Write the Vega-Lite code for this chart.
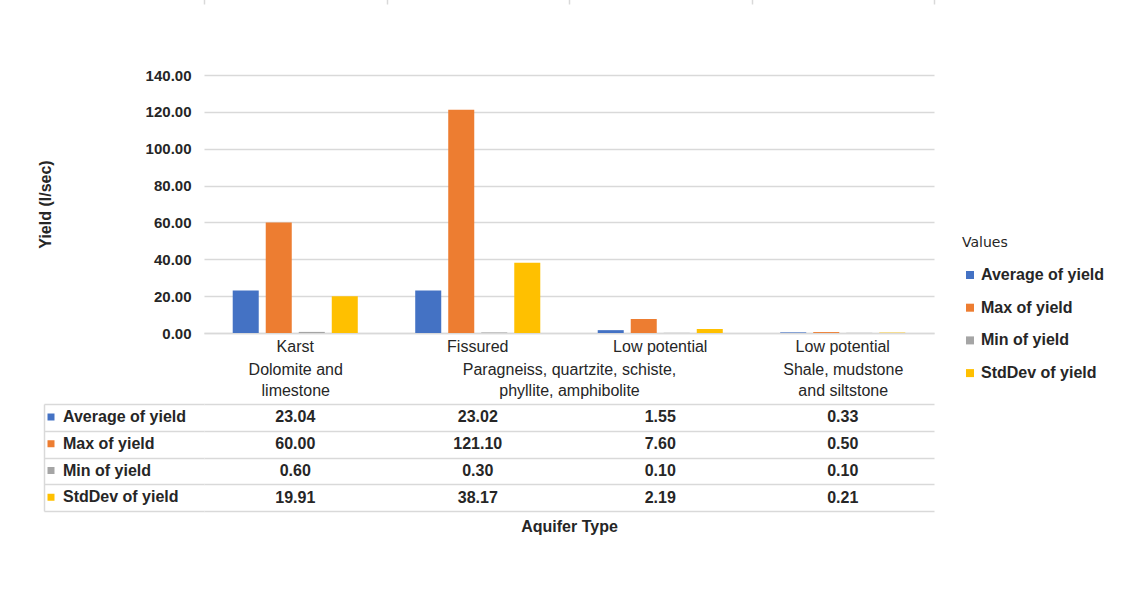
{
  "$schema": "https://vega.github.io/schema/vega-lite/v6.json",
  "padding": {"left": 37, "top": 68, "right": 4, "bottom": 4},
  "background": "#ffffff",
  "width": 730,
  "height": 258,
  "view": {"stroke": null},
  "config": {
    "font": "Liberation Sans",
    "axis": {"labelColor": "#262626", "titleColor": "#262626"},
    "legend": {"labelColor": "#262626"}
  },
  "datasets": {
    "yield": [
      {"aqt": "Karst", "litho": "Dolomite and limestone", "series": "Average of yield", "value": 23.04},
      {"aqt": "Karst", "litho": "Dolomite and limestone", "series": "Max of yield", "value": 60.0},
      {"aqt": "Karst", "litho": "Dolomite and limestone", "series": "Min of yield", "value": 0.6},
      {"aqt": "Karst", "litho": "Dolomite and limestone", "series": "StdDev of yield", "value": 19.91},
      {"aqt": "Fissured", "litho": "Paragneiss, quartzite, schiste, phyllite, amphibolite", "series": "Average of yield", "value": 23.02},
      {"aqt": "Fissured", "litho": "Paragneiss, quartzite, schiste, phyllite, amphibolite", "series": "Max of yield", "value": 121.1},
      {"aqt": "Fissured", "litho": "Paragneiss, quartzite, schiste, phyllite, amphibolite", "series": "Min of yield", "value": 0.3},
      {"aqt": "Fissured", "litho": "Paragneiss, quartzite, schiste, phyllite, amphibolite", "series": "StdDev of yield", "value": 38.17},
      {"aqt": "Low potential", "litho": "Paragneiss, quartzite, schiste, phyllite, amphibolite", "series": "Average of yield", "value": 1.55},
      {"aqt": "Low potential", "litho": "Paragneiss, quartzite, schiste, phyllite, amphibolite", "series": "Max of yield", "value": 7.6},
      {"aqt": "Low potential", "litho": "Paragneiss, quartzite, schiste, phyllite, amphibolite", "series": "Min of yield", "value": 0.1},
      {"aqt": "Low potential", "litho": "Paragneiss, quartzite, schiste, phyllite, amphibolite", "series": "StdDev of yield", "value": 2.19},
      {"aqt": "Low potential", "litho": "Shale, mudstone and siltstone", "series": "Average of yield", "value": 0.33},
      {"aqt": "Low potential", "litho": "Shale, mudstone and siltstone", "series": "Max of yield", "value": 0.5},
      {"aqt": "Low potential", "litho": "Shale, mudstone and siltstone", "series": "Min of yield", "value": 0.1},
      {"aqt": "Low potential", "litho": "Shale, mudstone and siltstone", "series": "StdDev of yield", "value": 0.21}
    ]
  },
  "resolve": {
    "scale": {"x": "independent", "y": "independent", "xOffset": "independent"},
    "axis": {"x": "independent", "y": "independent"},
    "legend": {"color": "independent"}
  },
  "layer": [
    {
      "data": {"name": "yield"},
      "transform": [{"calculate": "datum.aqt + '|' + datum.litho", "as": "col"}],
      "mark": {"type": "bar"},
      "encoding": {
        "x": {
          "field": "col", "type": "nominal", "sort": null,
          "scale": {"paddingInner": 0, "paddingOuter": 0},
          "axis": {
            "orient": "bottom", "title": null, "grid": false, "ticks": false,
            "domain": true, "domainColor": "#d9d9d9", "domainWidth": 1.5,
            "labelExpr": "split(datum.value, '|')[0]",
            "labelAngle": 0, "labelFontSize": 16, "labelFontWeight": "normal",
            "labelBaseline": "middle", "labelPadding": 13, "labelLimit": 0
          }
        },
        "xOffset": {
          "field": "series", "type": "nominal", "sort": null,
          "scale": {"paddingInner": 0.212, "paddingOuter": 0.87}
        },
        "y": {
          "field": "value", "type": "quantitative",
          "scale": {"domain": [0, 140]},
          "axis": {
            "orient": "left",
            "values": [0, 20, 40, 60, 80, 100, 120, 140],
            "format": ".2f",
            "title": "Yield (l/sec)",
            "titleFontSize": 16, "titleFontWeight": "bold", "titlePadding": 92,
            "labelFontSize": 15, "labelFontWeight": "bold", "labelPadding": 13,
            "ticks": false, "domain": false,
            "grid": true, "gridColor": "#d9d9d9", "gridWidth": 1.5
          }
        },
        "color": {
          "field": "series", "type": "nominal", "sort": null,
          "scale": {
            "domain": ["Average of yield", "Max of yield", "Min of yield", "StdDev of yield"],
            "range": ["#4472C4", "#ED7D31", "#A5A5A5", "#FFC000"]
          },
          "legend": {
            "orient": "none", "legendX": 758, "legendY": 161,
            "title": "Values", "titleFont": "DejaVu Sans", "titleFontSize": 14,
            "titleFontWeight": "normal", "titleColor": "#262626", "titlePadding": 17,
            "padding": 0,
            "symbolType": "square",
            "symbolSize": 64, "symbolStrokeWidth": 0,
            "labelFontSize": 16, "labelFontWeight": "bold", "labelOffset": 3,
            "rowPadding": 16.7, "labelLimit": 0
          }
        }
      }
    },
    {
      "data": {"name": "yield"},
      "transform": [{"calculate": "datum.aqt + '|' + datum.litho", "as": "col"}],
      "mark": {"type": "point", "opacity": 0},
      "encoding": {
        "x": {
          "field": "col", "type": "nominal", "sort": null,
          "scale": {"paddingInner": 0, "paddingOuter": 0},
          "axis": {
            "orient": "bottom", "title": null, "grid": false, "ticks": false, "domain": false,
            "labelExpr": "indexof(datum.value, 'Fissured') == 0 ? '' : indexof(datum.value, 'Dolomite') >= 0 ? ['Dolomite and', 'limestone'] : indexof(datum.value, 'Shale') >= 0 ? ['Shale, mudstone', 'and siltstone'] : ['Paragneiss, quartzite, schiste,', 'phyllite, amphibolite']",
            "labelOffset": {"condition": {"test": "indexof(datum.value, 'Low potential|Paragneiss') == 0", "value": -91.25}, "value": 0},
            "labelAngle": 0, "labelFontSize": 16, "labelFontWeight": "normal",
            "labelBaseline": "top", "labelPadding": 28, "labelLineHeight": 21, "labelLimit": 0
          }
        }
      }
    },
    {
      "data": {"name": "yield"},
      "transform": [{"calculate": "datum.aqt + '|' + datum.litho", "as": "col"}],
      "mark": {"type": "text", "fontSize": 16, "fontWeight": "bold", "color": "#262626", "baseline": "middle"},
      "encoding": {
        "x": {
          "field": "col", "type": "nominal", "sort": null,
          "scale": {"paddingInner": 0, "paddingOuter": 0},
          "axis": {
            "orient": "bottom", "offset": 178, "title": "Aquifer Type",
            "titleFontSize": 16, "titleFontWeight": "bold", "titlePadding": 7,
            "labels": false, "ticks": false, "domain": false,
            "grid": true, "tickBand": "extent", "gridColor": "#d9d9d9", "gridWidth": 1.5
          }
        },
        "y": {
          "field": "series", "type": "nominal", "sort": null,
          "scale": {"range": [329, 436], "paddingInner": 0, "paddingOuter": 0},
          "axis": {
            "orient": "left", "title": null, "labels": false, "domain": false,
            "ticks": true, "tickBand": "extent", "tickSize": 160,
            "tickColor": "#d9d9d9", "tickWidth": 1.5,
            "grid": true, "gridColor": "#d9d9d9", "gridWidth": 1.5
          }
        },
        "text": {"field": "value", "type": "quantitative", "format": ".2f"}
      }
    },
    {
      "data": {"name": "yield"},
      "mark": {"type": "point", "opacity": 0, "filled": true},
      "encoding": {
        "y": {
          "field": "series", "type": "nominal", "sort": null,
          "scale": {"range": [329, 436], "paddingInner": 0, "paddingOuter": 0},
          "axis": {
            "orient": "left", "offset": 160, "title": null, "labels": false,
            "ticks": false, "grid": false,
            "domain": true, "domainColor": "#d9d9d9", "domainWidth": 1.5
          }
        },
        "color": {
          "field": "series", "type": "nominal", "sort": null,
          "scale": {
            "domain": ["Average of yield", "Max of yield", "Min of yield", "StdDev of yield"],
            "range": ["#4472C4", "#ED7D31", "#A5A5A5", "#FFC000"]
          },
          "legend": {
            "orient": "none", "legendX": -161, "legendY": 334,
            "title": null, "padding": 0,
            "symbolType": "square",
            "symbolSize": 49, "symbolStrokeWidth": 0, "symbolOpacity": 1,
            "labelFontSize": 16, "labelFontWeight": "bold", "labelOffset": 4,
            "rowPadding": 10.75, "labelLimit": 0
          }
        }
      }
    }
  ]
}
